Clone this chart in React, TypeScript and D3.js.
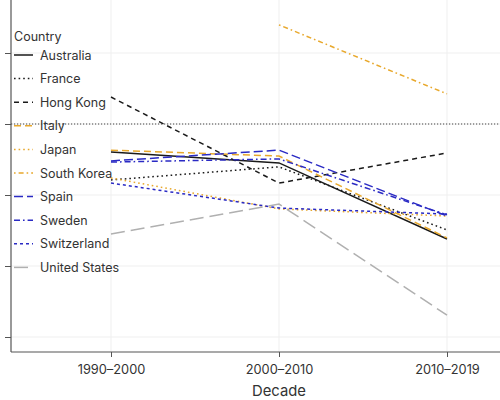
import { useEffect, useRef } from "react";
import * as d3 from "d3";

const decades = ["1990–2000", "2000–2010", "2010–2019"];
const countries = [
  "Australia",
  "France",
  "Hong Kong",
  "Italy",
  "Japan",
  "South Korea",
  "Spain",
  "Sweden",
  "Switzerland",
  "United States",
];
// one value per decade, null where missing
const australia = [0.901, 0.863, 0.595];
const france = [0.803, 0.849, 0.627];
const hongKong = [1.095, 0.792, 0.898];
const italy = [0.908, 0.887, 0.599];
const japan = [0.81, 0.701, 0.676];
const southKorea = [null, 1.349, 1.106];
const spain = [0.87, 0.908, 0.676];
const sweden = [0.866, 0.877, 0.68];
const switzerland = [0.792, 0.704, 0.683];
const unitedStates = [0.613, 0.718, 0.327];
const yTicks = [0.25, 0.5, 0.75, 1, 1.25];
const refLine = 1;

const BLACK = "#1a1a1a";
const GOLD = "#e8a82c";
const BLUE = "#2a2ac4";
const GREY = "#b0b0b0";

const styles: Record<string, { color: string; dash: string }> = {
  Australia: { color: BLACK, dash: "none" },
  France: { color: BLACK, dash: "1.6,3" },
  "Hong Kong": { color: BLACK, dash: "5,4" },
  Italy: { color: GOLD, dash: "7,4" },
  Japan: { color: GOLD, dash: "1.6,3" },
  "South Korea": { color: GOLD, dash: "1.6,3,5,3" },
  Spain: { color: BLUE, dash: "9,4" },
  Sweden: { color: BLUE, dash: "6,3,1.6,3" },
  Switzerland: { color: BLUE, dash: "3,3" },
  "United States": { color: GREY, dash: "14,6" },
};

export default function App() {
  const svgRef = useRef<SVGSVGElement>(null);

  useEffect(() => {
    if (!svgRef.current) return;
    const svg = d3.select(svgRef.current);
    svg.selectAll("*").remove();

    const series = [
      australia,
      france,
      hongKong,
      italy,
      japan,
      southKorea,
      spain,
      sweden,
      switzerland,
      unitedStates,
    ].map((values, i) => ({ name: countries[i], values }));

    const width = 500;
    const height = 400;
    const panel = { left: 11, right: 560, top: -10, bottom: 352 };

    const x = d3.scalePoint<string>().domain(decades).range([111, 447]);
    const y = d3.scaleLinear().domain([0, 1]).range([408, 124]);

    const font = "Inter, 'Noto Sans', sans-serif";

    // grid
    const grid = svg.append("g");
    grid
      .selectAll("line.h")
      .data(yTicks)
      .enter()
      .append("line")
      .attr("x1", panel.left)
      .attr("x2", panel.right)
      .attr("y1", (d) => y(d))
      .attr("y2", (d) => y(d))
      .attr("stroke", "#efefef")
      .attr("stroke-width", 1);
    grid
      .selectAll("line.v")
      .data(decades)
      .enter()
      .append("line")
      .attr("x1", (d) => x(d)!)
      .attr("x2", (d) => x(d)!)
      .attr("y1", panel.top)
      .attr("y2", panel.bottom)
      .attr("stroke", "#efefef")
      .attr("stroke-width", 1);

    // legend
    const legend = svg.append("g").attr("font-family", font);
    legend
      .append("text")
      .attr("x", 14)
      .attr("y", 41)
      .attr("font-size", 12.5)
      .attr("fill", "#333")
      .text("Country");
    countries.forEach((c, i) => {
      const ly = 55 + i * 23.6;
      legend
        .append("line")
        .attr("x1", 14)
        .attr("x2", 33)
        .attr("y1", ly)
        .attr("y2", ly)
        .attr("stroke", styles[c].color)
        .attr("stroke-width", 1.5)
        .attr("stroke-dasharray", styles[c].dash);
      legend
        .append("text")
        .attr("x", 40)
        .attr("y", ly + 4.5)
        .attr("font-size", 12.5)
        .attr("fill", "#333")
        .text(c);
    });

    // reference line
    svg
      .append("line")
      .attr("x1", panel.left)
      .attr("x2", panel.right)
      .attr("y1", y(refLine))
      .attr("y2", y(refLine))
      .attr("stroke", "#444")
      .attr("stroke-width", 1)
      .attr("stroke-dasharray", "1.2,1.8");

    // lines
    const line = d3
      .line<number | null>()
      .defined((d) => d !== null)
      .x((_d, i) => x(decades[i])!)
      .y((d) => y(d as number));

    svg
      .append("g")
      .selectAll("path")
      .data(series)
      .enter()
      .append("path")
      .attr("d", (s) => line(s.values))
      .attr("fill", "none")
      .attr("stroke", (s) => styles[s.name].color)
      .attr("stroke-width", 1.5)
      .attr("stroke-dasharray", (s) => styles[s.name].dash);

    // axes
    const yAxis = svg
      .append("g")
      .attr("transform", `translate(${panel.left},0)`)
      .call(d3.axisLeft(y).tickValues(yTicks).tickSize(6).tickFormat(() => ""));
    yAxis.select(".domain").remove();
    yAxis.selectAll(".tick line").attr("stroke", "#555");
    svg
      .append("line")
      .attr("x1", panel.left)
      .attr("x2", panel.left)
      .attr("y1", panel.top)
      .attr("y2", panel.bottom)
      .attr("stroke", "#555")
      .attr("stroke-width", 1.2);

    const xAxis = svg
      .append("g")
      .attr("transform", `translate(0,${panel.bottom})`)
      .call(d3.axisBottom(x).tickSize(5).tickPadding(8));
    xAxis.select(".domain").remove();
    xAxis.selectAll(".tick line").attr("stroke", "#555");
    xAxis
      .selectAll("text")
      .attr("font-family", font)
      .attr("font-size", 12.8)
      .attr("fill", "#333");
    svg
      .append("line")
      .attr("x1", panel.left)
      .attr("x2", panel.right)
      .attr("y1", panel.bottom)
      .attr("y2", panel.bottom)
      .attr("stroke", "#555")
      .attr("stroke-width", 1.2);

    svg
      .append("text")
      .attr("x", 279)
      .attr("y", 396)
      .attr("text-anchor", "middle")
      .attr("font-family", font)
      .attr("font-size", 14.8)
      .attr("fill", "#333")
      .text("Decade");

    svg.attr("width", width).attr("height", height);
  }, []);

  return (
    <svg
      ref={svgRef}
      width={500}
      height={400}
      style={{ position: "absolute", left: 0, top: 0, background: "#fff" }}
    />
  );
}
